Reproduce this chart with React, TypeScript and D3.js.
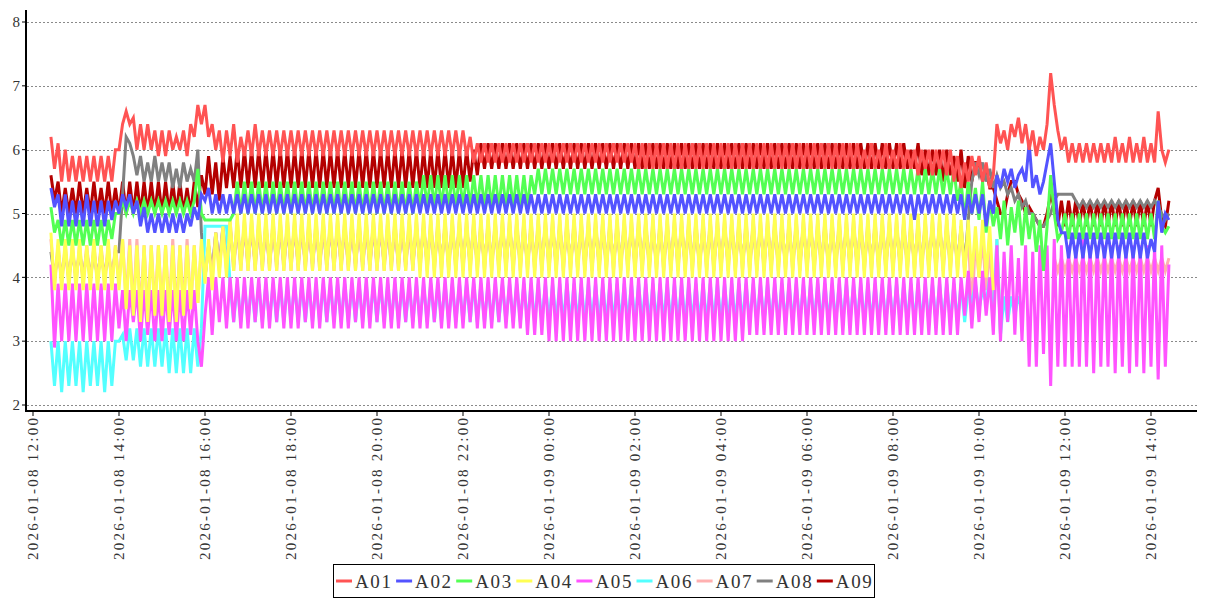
import React from 'react';
import * as d3 from 'd3';

// legend / series names and colours
const SERIES = ["A01", "A02", "A03", "A04", "A05", "A06", "A07", "A08", "A09"];
const COLORS = ["#ff5353", "#5353ff", "#53ff53", "#ffff53", "#ff53ff", "#53ffff", "#ffb0b0", "#808080", "#b40000"];

// one row per clock hour; values are tenths, 5 minutes apart, "--" = no data.
// first row ends at 12:55, last row starts at 14:00
const HOURS = [
  "2026-01-08 12", "2026-01-08 13", "2026-01-08 14", "2026-01-08 15", "2026-01-08 16", "2026-01-08 17",
  "2026-01-08 18", "2026-01-08 19", "2026-01-08 20", "2026-01-08 21", "2026-01-08 22", "2026-01-08 23",
  "2026-01-09 00", "2026-01-09 01", "2026-01-09 02", "2026-01-09 03", "2026-01-09 04", "2026-01-09 05",
  "2026-01-09 06", "2026-01-09 07", "2026-01-09 08", "2026-01-09 09", "2026-01-09 10", "2026-01-09 11",
  "2026-01-09 12", "2026-01-09 13", "2026-01-09 14",
];

const A01 = [
  "62 57 61 55 60 55 59",
  "55 59 55 59 55 59 55 59 55 59 55 60",
  "60 64 66 64 65 60 64 60 64 60 63 59",
  "63 59 63 60 62 60 63 59 64 62 67 64",
  "67 62 64 60 63 58 63 59 64 58 62 59",
  "63 59 64 59 63 59 63 59 63 59 63 59",
  "63 59 63 59 63 59 63 59 63 59 63 59",
  "63 59 63 59 63 59 63 59 63 59 63 59",
  "63 59 63 59 63 59 63 59 63 59 63 59",
  "63 59 63 59 63 59 63 59 63 59 63 59",
  "63 59 62 58 61 58 61 58 61 58 61 58",
  "61 58 61 58 61 58 61 58 61 58 61 58",
  "61 58 61 58 61 58 61 58 61 58 61 58",
  "61 58 61 58 61 58 61 58 61 58 61 58",
  "61 57 61 57 61 57 61 57 61 57 61 57",
  "61 57 61 57 61 57 61 57 61 57 61 57",
  "61 57 61 57 61 57 61 57 61 57 61 57",
  "61 57 61 57 61 57 61 57 61 57 61 57",
  "61 57 61 57 61 57 61 57 61 57 61 57",
  "61 57 61 57 60 57 61 57 60 57 61 57",
  "60 57 61 57 60 57 60 56 60 57 60 56",
  "60 57 60 56 60 55 59 54 58 55 59 56",
  "59 55 58 54 56 64 61 63 60 64 62 65",
  "61 64 60 63 59 62 60 64 72 67 63 60",
  "62 58 61 58 61 58 61 58 61 58 61 58",
  "61 58 62 58 61 58 62 58 61 58 62 58",
  "61 58 66 60 58 60",
];

const A02 = [
  "54 51 53 48 53 48 52",
  "48 52 48 53 48 52 48 52 48 52 49 52",
  "50 53 51 53 50 52 48 51 47 50 47 50",
  "47 50 47 50 47 50 47 50 48 51 49 53",
  "52 54 50 53 50 53 50 53 50 53 50 53",
  "50 53 50 53 50 53 50 53 50 53 50 53",
  "50 53 50 53 50 53 50 53 50 53 50 53",
  "50 53 50 53 50 53 50 53 50 53 50 53",
  "50 53 50 53 50 53 50 53 50 53 50 53",
  "50 53 50 53 50 53 50 53 50 53 50 53",
  "50 53 50 53 50 53 50 53 50 53 50 53",
  "50 53 50 53 50 53 50 53 50 53 50 53",
  "50 53 50 53 50 53 50 53 50 53 50 53",
  "50 53 50 53 50 53 50 53 50 53 50 53",
  "50 53 50 53 50 53 50 53 50 53 50 53",
  "50 53 50 53 50 53 50 53 50 53 50 53",
  "50 53 50 53 50 53 50 53 50 53 50 53",
  "50 53 50 53 50 53 50 53 50 53 50 53",
  "50 53 50 53 50 53 50 53 50 53 50 53",
  "50 53 50 53 50 53 50 53 50 53 50 53",
  "50 53 50 53 50 53 49 53 50 53 50 53",
  "50 53 50 53 50 53 50 53 49 53 50 53",
  "50 53 48 52 50 56 54 57 55 57 54 56",
  "57 55 61 54 56 53 55 58 61 55 49 47",
  "47 43 47 43 47 43 47 43 47 43 47 43",
  "47 43 47 43 47 43 47 43 47 43 47 43",
  "46 44 52 47 50 49",
];

const A03 = [
  "51 47 49 45 49 45 49",
  "45 49 45 49 45 49 45 49 45 49 46 50",
  "50 52 50 52 50 52 50 52 50 52 50 52",
  "50 52 50 52 50 52 50 52 50 52 57 50",
  "49 49 49 49 49 49 49 49 50 55 50 55",
  "50 55 50 55 50 55 50 55 50 55 50 55",
  "50 55 50 55 50 55 50 55 50 55 50 55",
  "50 55 50 55 50 55 50 55 50 55 50 55",
  "50 55 50 55 50 55 50 55 50 55 50 55",
  "51 56 51 56 51 56 51 56 51 56 51 56",
  "51 56 51 56 51 56 51 56 51 56 51 56",
  "51 56 51 56 51 56 51 56 53 57 53 57",
  "53 57 53 57 53 57 53 57 53 57 53 57",
  "53 57 53 57 53 57 53 57 53 57 53 57",
  "53 57 53 57 53 57 53 57 53 57 53 57",
  "53 57 53 57 53 57 53 57 53 57 53 57",
  "53 57 53 57 53 57 53 57 53 57 53 57",
  "53 57 53 57 53 57 53 57 53 57 53 57",
  "53 57 53 57 53 57 53 57 53 57 53 57",
  "53 57 53 57 53 57 53 57 53 57 53 57",
  "53 57 53 57 53 57 53 57 53 57 53 57",
  "53 57 53 57 53 57 52 55 49 55 50 54",
  "49 55 47 52 48 51 46 52 45 51 47 52",
  "45 51 46 50 44 49 41 48 56 50 46 47",
  "50 46 50 46 50 46 50 46 50 46 50 46",
  "50 46 50 46 50 46 50 46 50 46 50 46",
  "50 46 52 48 47 48",
];

const A04 = [
  "47 38 46 38 46 38 46",
  "38 46 38 45 38 46 38 45 38 46 38 45",
  "38 46 35 45 34 45 33 45 33 45 34 45",
  "34 45 33 45 33 45 34 45 35 45 36 46",
  "39 46 38 47 40 48 40 49 41 50 41 50",
  "41 50 41 50 41 50 41 50 41 50 41 50",
  "41 50 41 50 41 50 41 50 41 50 41 50",
  "41 50 41 50 41 50 41 50 41 50 41 50",
  "41 50 41 50 41 50 41 50 41 50 41 50",
  "40 50 40 50 40 50 40 50 40 50 40 50",
  "40 50 40 50 40 50 40 50 40 50 40 50",
  "40 50 40 50 40 50 40 50 40 50 40 50",
  "40 50 40 50 40 50 40 50 40 50 40 50",
  "40 50 40 50 40 50 40 50 40 50 40 50",
  "40 50 40 50 40 50 40 50 40 50 40 50",
  "40 50 40 50 40 50 40 50 40 50 40 50",
  "40 50 40 50 40 50 40 50 40 50 40 50",
  "40 50 40 50 40 50 40 50 40 50 40 50",
  "40 50 40 50 40 50 40 50 40 50 40 50",
  "40 50 40 50 40 50 40 50 40 50 40 50",
  "40 50 40 50 40 50 40 50 40 50 40 50",
  "40 50 40 50 40 50 40 49 40 49 40 48",
  "40 49 40 48 38 -- -- -- -- -- -- --",
  "-- -- -- -- -- -- -- -- -- -- -- --",
  "-- -- -- -- -- -- -- -- -- -- -- --",
  "-- -- -- -- -- -- -- -- -- -- -- --",
  "-- -- -- -- -- --",
];

const A05 = [
  "42 29 39 30 39 30 39",
  "30 39 30 39 30 39 30 39 30 39 30 39",
  "32 38 30 38 33 38 30 38 31 38 30 38",
  "30 38 31 38 30 38 30 38 31 38 30 26",
  "34 40 31 40 33 40 32 40 33 40 32 40",
  "32 40 33 40 32 40 32 40 33 40 32 40",
  "32 40 32 40 33 40 32 40 32 40 33 40",
  "32 40 32 40 32 40 33 40 32 40 32 40",
  "33 40 32 40 32 40 32 40 33 40 32 40",
  "32 40 32 40 33 40 32 40 32 40 32 40",
  "32 40 33 40 32 40 32 40 32 40 33 40",
  "32 40 32 40 32 40 31 40 31 40 31 40",
  "30 40 30 40 30 40 30 40 30 40 30 40",
  "30 40 30 40 30 40 30 40 30 40 30 40",
  "30 40 30 40 30 40 30 40 30 40 30 40",
  "30 40 30 40 30 40 30 40 30 40 30 40",
  "30 40 30 40 30 40 30 40 31 40 31 40",
  "31 40 31 40 31 40 31 40 31 40 31 40",
  "31 40 31 40 31 40 31 40 31 40 31 40",
  "31 40 31 40 31 40 31 40 31 40 31 40",
  "31 40 31 40 31 40 31 40 31 40 31 40",
  "31 40 31 40 31 40 31 40 34 41 32 40",
  "33 41 34 40 31 45 30 44 33 45 31 43",
  "30 45 26 44 26 45 28 45 23 46 26 45",
  "26 45 26 45 26 46 26 45 25 45 26 45",
  "26 45 25 45 26 45 25 45 26 45 25 45",
  "26 45 24 45 26 42",
];

const A06 = [
  "30 23 30 22 30 23 30",
  "23 30 22 30 23 30 23 30 22 30 23 30",
  "30 31 27 32 27 32 26 32 26 32 26 32",
  "26 32 25 32 25 32 25 32 25 32 26 32",
  "48 48 48 48 48 48 48 39 33 39 33 39",
  "33 39 33 39 33 39 33 39 33 39 33 39",
  "33 39 33 39 33 39 33 39 33 39 33 39",
  "33 39 33 39 33 39 33 39 33 39 33 39",
  "33 39 33 39 33 39 33 39 33 39 33 39",
  "33 39 33 39 33 39 33 39 33 39 33 39",
  "33 39 33 39 33 39 33 39 33 39 33 39",
  "33 39 33 39 33 39 33 39 33 39 33 39",
  "33 39 33 39 33 39 33 39 33 39 33 39",
  "33 39 33 39 33 39 33 39 33 39 33 39",
  "33 39 33 39 33 39 33 39 33 39 33 39",
  "33 39 33 39 33 39 33 39 33 39 33 39",
  "33 39 33 39 33 39 33 39 33 39 33 39",
  "33 39 33 39 33 39 33 39 33 39 33 39",
  "33 39 33 39 33 39 33 39 33 39 33 39",
  "33 39 33 39 33 39 33 39 33 39 33 39",
  "33 39 33 39 33 39 33 39 33 39 33 39",
  "33 39 33 39 33 39 33 39 33 38 36 39",
  "35 38 36 40 33 46 31 37 33 37 34 37",
  "35 -- -- -- -- -- -- -- -- -- -- --",
  "-- -- -- -- -- -- -- -- -- -- -- --",
  "-- -- -- -- -- -- -- -- -- -- -- --",
  "-- -- -- -- -- --",
];

const A07 = [
  "46 39 45 39 45 39 45",
  "39 45 39 45 39 45 39 45 39 45 39 45",
  "39 46 36 46 35 46 34 45 34 45 35 45",
  "35 45 34 46 34 45 35 46 35 45 36 45",
  "40 45 40 47 41 48 41 49 41 49 41 49",
  "41 49 41 49 41 49 41 49 41 49 41 49",
  "41 49 41 49 41 49 41 49 41 49 41 49",
  "41 49 41 49 41 49 41 49 41 49 41 49",
  "41 49 41 49 41 49 41 49 41 49 41 49",
  "41 49 41 49 41 49 41 49 41 49 41 49",
  "41 49 41 49 41 49 41 49 41 49 41 49",
  "41 49 41 49 41 49 41 49 41 49 41 49",
  "41 49 41 49 41 49 41 49 41 49 41 49",
  "41 49 41 49 41 49 41 49 41 49 41 49",
  "41 49 41 49 41 49 41 49 41 49 41 49",
  "41 49 41 49 41 49 41 49 41 49 41 49",
  "41 49 41 49 41 49 41 49 41 49 41 49",
  "41 49 41 49 41 49 41 49 41 49 41 49",
  "41 49 41 49 41 49 41 49 41 49 41 49",
  "41 49 41 49 41 49 41 49 41 49 41 49",
  "41 49 41 49 41 49 41 49 41 49 41 49",
  "41 49 41 49 41 49 41 48 41 47 34 46",
  "40 46 38 45 35 46 31 -- -- -- -- --",
  "-- -- -- -- -- -- -- -- -- 43 41 43",
  "41 43 41 43 41 43 41 43 41 43 41 43",
  "41 43 41 43 41 43 41 43 41 43 41 43",
  "41 43 41 43 41 43",
];

const A08 = [
  "44 40 44 40 44 40 44",
  "40 44 40 44 40 44 40 44 40 44 40 44",
  "44 53 62 61 59 56 59 55 58 55 59 55",
  "58 55 58 54 57 54 58 55 57 55 60 47",
  "40 45 41 47 42 48 42 48 42 48 42 48",
  "42 48 42 48 42 48 42 48 42 48 42 48",
  "42 48 42 48 42 48 42 48 42 48 42 48",
  "42 48 42 48 42 48 42 48 42 48 42 48",
  "42 48 42 48 42 48 42 48 42 48 42 48",
  "42 48 42 48 42 48 42 48 42 48 42 48",
  "42 48 42 48 42 48 42 48 42 48 42 48",
  "42 48 42 48 42 48 42 48 42 48 42 48",
  "42 48 42 48 42 48 42 48 42 48 42 48",
  "42 48 42 48 42 48 42 48 42 48 42 48",
  "42 48 42 48 42 48 42 48 42 48 42 48",
  "42 48 42 48 42 48 42 48 42 48 42 48",
  "42 48 42 48 42 48 42 48 42 48 42 48",
  "42 48 42 48 42 48 42 48 42 48 42 48",
  "42 48 42 48 42 48 42 48 42 48 42 48",
  "42 48 42 48 42 48 42 48 42 48 42 48",
  "42 48 42 48 42 48 42 48 42 48 42 48",
  "42 48 42 48 42 48 42 48 42 49 55 58",
  "56 58 55 57 54 56 54 55 53 54 52 53",
  "51 52 50 50 49 48 48 49 50 52 53 53",
  "53 53 53 52 51 52 51 52 51 52 51 52",
  "51 52 51 52 51 52 51 52 51 52 51 52",
  "51 52 51 50 49 50",
];

const A09 = [
  "56 52 55 50 54 50 54",
  "50 55 50 54 50 55 50 54 50 55 50 54",
  "50 55 50 55 50 55 50 55 50 55 50 55",
  "50 55 50 55 50 55 50 54 50 55 51 56",
  "53 59 53 58 52 59 54 59 54 60 54 60",
  "54 60 54 60 54 60 54 60 54 60 54 60",
  "54 60 54 60 54 60 54 60 54 60 54 60",
  "54 60 54 60 54 60 54 60 54 60 54 60",
  "54 60 54 60 54 60 54 60 54 60 54 60",
  "54 60 54 60 54 60 54 60 54 60 54 60",
  "54 60 55 60 56 61 57 61 57 61 57 61",
  "57 61 57 61 57 61 57 61 57 61 57 61",
  "57 61 57 61 57 61 57 61 57 61 57 61",
  "57 61 57 61 57 61 57 61 57 61 57 61",
  "57 61 57 61 57 61 57 61 57 61 57 61",
  "57 61 57 61 57 61 57 61 57 61 57 61",
  "57 61 57 61 57 61 57 61 57 61 57 61",
  "57 61 57 61 57 61 57 61 57 61 57 61",
  "57 61 57 61 57 61 57 61 57 61 57 61",
  "57 61 57 61 57 61 57 61 57 61 57 61",
  "57 61 57 61 57 60 57 61 56 60 56 60",
  "56 60 55 60 56 59 55 60 54 59 55 58",
  "58 55 57 54 54 52 50 50 53 55 55 53",
  "52 50 51 50 49 48 48 50 53 51 48 52",
  "48 52 48 52 48 52 48 52 48 52 48 52",
  "48 52 48 52 48 52 48 52 48 52 48 52",
  "48 52 54 49 48 52",
];

const DATA = [A01, A02, A03, A04, A05, A06, A07, A08, A09];

type Pt = { t: Date; v: number | null };

function toPoints(rows: string[]): Pt[] {
  const pts: Pt[] = [];
  rows.forEach((row, r) => {
    const vals = row.trim().split(/\s+/);
    const [day, hour] = HOURS[r].split(" ");
    const [Y, M, D] = day.split("-").map(Number);
    const start = r === 0 ? 60 - 5 * vals.length : 0;
    vals.forEach((s, k) => {
      pts.push({ t: new Date(Y, M - 1, D, +hour, start + 5 * k), v: s === "--" ? null : +s / 10 });
    });
  });
  return pts;
}

const W = 1207, H = 600;
const axisX = 26, axisY = 411, right = 1197;
const FONT = '"Liberation Serif", "Times New Roman", serif';

export default function App() {
  const x = d3.scaleTime()
    .domain([new Date(2026, 0, 8, 12), new Date(2026, 0, 9, 14)])
    .range([33, 1151]);
  const y = d3.scaleLinear().domain([2, 8]).range([405, 22]);

  const line = d3.line<Pt>()
    .defined(d => d.v != null)
    .x(d => x(d.t))
    .y(d => y(d.v as number));

  const series = DATA.map(toPoints);
  const xTicks = d3.timeHour.every(2)!.range(new Date(2026, 0, 8, 12), new Date(2026, 0, 9, 14, 1));
  const fmt = d3.timeFormat("%Y-%m-%d %H:%M");
  const yTicks = y.ticks(6);

  // drawn from the last series to the first, so A01 ends on top
  const order = d3.range(SERIES.length).reverse();

  const legX = 333, legY = 564, legStep = 60.1;

  return (
    <div style={{ position: 'absolute', left: 0, top: 0 }}>
      <svg width={W} height={H} style={{ display: 'block', background: '#fff' }}>
        {/* grid */}
        <g>
          {yTicks.map(t => (
            <line key={t} x1={axisX + 1} x2={right} y1={Math.round(y(t)) + 0.5} y2={Math.round(y(t)) + 0.5}
              stroke="#8a8a8a" strokeWidth={1} strokeDasharray="2,2" />
          ))}
        </g>

        {/* lines */}
        <g fill="none" strokeWidth={3}>
          {order.map(i => (
            <path key={SERIES[i]} d={line(series[i]) || ''} stroke={COLORS[i]} />
          ))}
        </g>

        {/* axes */}
        <line x1={axisX} x2={axisX} y1={10} y2={axisY + 1} stroke="#000" strokeWidth={2} />
        <line x1={axisX - 1} x2={right} y1={axisY} y2={axisY} stroke="#000" strokeWidth={2} />

        <g fontFamily={FONT} fontSize={15} fill="#333">
          {yTicks.map(t => (
            <g key={t}>
              <line x1={axisX - 4} x2={axisX} y1={y(t)} y2={y(t)} stroke="#000" />
              <text x={20} y={y(t)} dy="0.35em" textAnchor="end">{t}</text>
            </g>
          ))}
          {xTicks.map(t => (
            <g key={+t}>
              <line x1={x(t)} x2={x(t)} y1={axisY} y2={axisY + 5} stroke="#000" />
              <text transform={`translate(${x(t)},418) rotate(-90)`} dy="0.35em" textAnchor="end"
                textLength={142} lengthAdjust="spacing">{fmt(t)}</text>
            </g>
          ))}
        </g>

        {/* legend */}
        <g fontFamily={FONT}>
          <rect x={legX + 0.5} y={legY + 0.5} width={541} height={33} fill="#fff" stroke="#000" />
          {SERIES.map((s, i) => (
            <g key={s} transform={`translate(${legX + 3 + i * legStep},${legY + 17})`}>
              <line x1={0} x2={16} y1={0} y2={0} stroke={COLORS[i]} strokeWidth={3} />
              <text x={19} y={0} dy="0.35em" fontSize={19} fill="#333" textLength={36} lengthAdjust="spacing">{s}</text>
            </g>
          ))}
        </g>
      </svg>
    </div>
  );
}
